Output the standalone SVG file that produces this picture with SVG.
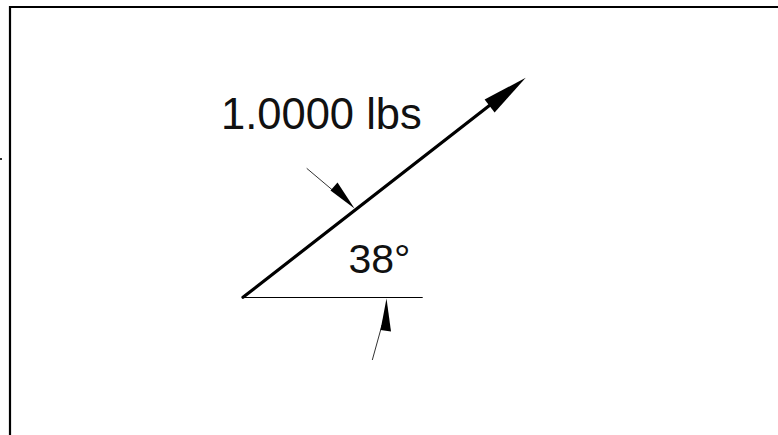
<svg xmlns="http://www.w3.org/2000/svg" width="778" height="435" viewBox="0 0 778 435">
<style>
.frame{stroke:#000;stroke-width:2.2;fill:none}
.vec{stroke:#000;stroke-width:3.2;fill:none;stroke-linecap:round}
.thin{stroke:#000;stroke-width:1.2;fill:none}
.lead{stroke:#333;stroke-width:1;fill:none}
.head{fill:#000;stroke:none}
.lbl{font-family:"Liberation Sans",Arial,sans-serif;fill:#111}
</style>
<rect width="778" height="435" fill="#fff"/>
<g id="frame">
<path class="frame" d="M10 435 V7 H778"/>
<rect x="0" y="158" width="2" height="2" fill="#333"/>
</g>
<g id="connectors">
<g id="force-vector">
<line class="vec" x1="243" y1="297.3" x2="492" y2="103.5"/>
<polygon class="head" points="525.7,77.7 494.6,112.4 484.6,99.6"/>
</g>
<line id="baseline" class="thin" x1="242" y1="297.5" x2="422.7" y2="297.5"/>
<g id="dim-arrow-1">
<line class="lead" x1="306.7" y1="168.3" x2="336" y2="193"/>
<polygon class="head" points="354.5,208.5 330.5,190.5 337.5,182.5"/>
</g>
<g id="dim-arrow-2">
<line class="lead" x1="372.3" y1="360" x2="382" y2="325"/>
<polygon class="head" points="386.5,298.5 380.5,330 391,331.5"/>
</g>
</g>
<g id="label-force">
<text class="lbl" x="221" y="128.5" font-size="43.5">1.0000 lbs</text>
</g>
<g id="label-angle">
<text class="lbl" x="348.5" y="272.5" font-size="41">38°</text>
</g>
</svg>
